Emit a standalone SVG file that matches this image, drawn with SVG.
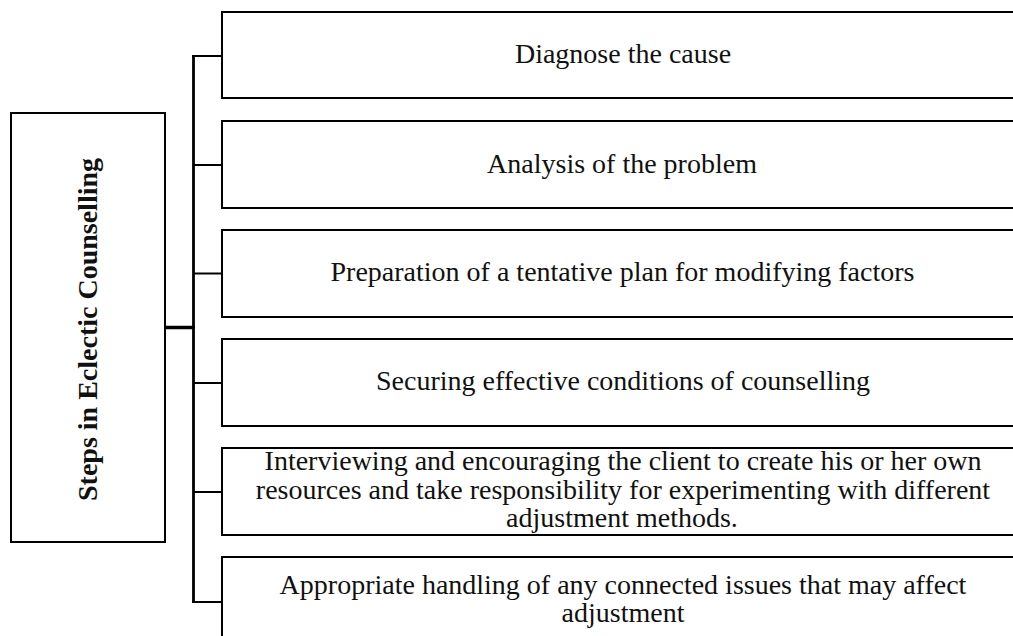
<svg xmlns="http://www.w3.org/2000/svg" width="1013" height="636" viewBox="0 0 1013 636">
<style>
.box{fill:#fff;stroke:#000;stroke-width:2}
.t{font-family:"Liberation Serif","Times New Roman",serif;font-size:28px;fill:#111;text-anchor:middle}
.h{font-family:"Liberation Serif","Times New Roman",serif;font-size:28px;font-weight:bold;fill:#111;text-anchor:middle}
.c{stroke:#000;fill:none}
</style>
<rect width="1013" height="636" fill="#fff"/>
<g id="connectors">
<line class="c" x1="193.5" y1="55" x2="193.5" y2="603" stroke-width="2.8"/>
<line class="c" x1="165" y1="327.5" x2="195" y2="327.5" stroke-width="3.5"/>
<line class="c" x1="192" y1="56" x2="222" y2="56" stroke-width="2"/>
<line class="c" x1="193" y1="165" x2="222" y2="165" stroke-width="2"/>
<line class="c" x1="193" y1="273.5" x2="222" y2="273.5" stroke-width="2"/>
<line class="c" x1="193" y1="383" x2="222" y2="383" stroke-width="2"/>
<line class="c" x1="193" y1="492" x2="222" y2="492" stroke-width="2"/>
<line class="c" x1="192" y1="602" x2="222" y2="602" stroke-width="2"/>
</g>
<g id="root">
<rect class="box" x="11" y="113" width="154" height="429"/>
<text class="h" transform="translate(97,329.5) rotate(-90)">Steps in Eclectic Counselling</text>
</g>
<g id="step1">
<rect class="box" x="222" y="12" width="810" height="86"/>
<text class="t" x="623" y="63">Diagnose the cause</text>
</g>
<g id="step2">
<rect class="box" x="222" y="121" width="810" height="87"/>
<text class="t" x="622" y="173">Analysis of the problem</text>
</g>
<g id="step3">
<rect class="box" x="222" y="230" width="810" height="87"/>
<text class="t" x="622.5" y="281">Preparation of a tentative plan for modifying factors</text>
</g>
<g id="step4">
<rect class="box" x="222" y="339" width="810" height="87"/>
<text class="t" x="623" y="390">Securing effective conditions of counselling</text>
</g>
<g id="step5">
<rect class="box" x="222" y="448" width="810" height="87"/>
<text class="t" x="623" y="470">Interviewing and encouraging the client to create his or her own</text>
<text class="t" x="623" y="498.5">resources and take responsibility for experimenting with different</text>
<text class="t" x="622" y="527">adjustment methods.</text>
</g>
<g id="step6">
<rect class="box" x="222" y="557" width="810" height="100"/>
<text class="t" x="623" y="594">Appropriate handling of any connected issues that may affect</text>
<text class="t" x="623" y="622">adjustment</text>
</g>
</svg>
